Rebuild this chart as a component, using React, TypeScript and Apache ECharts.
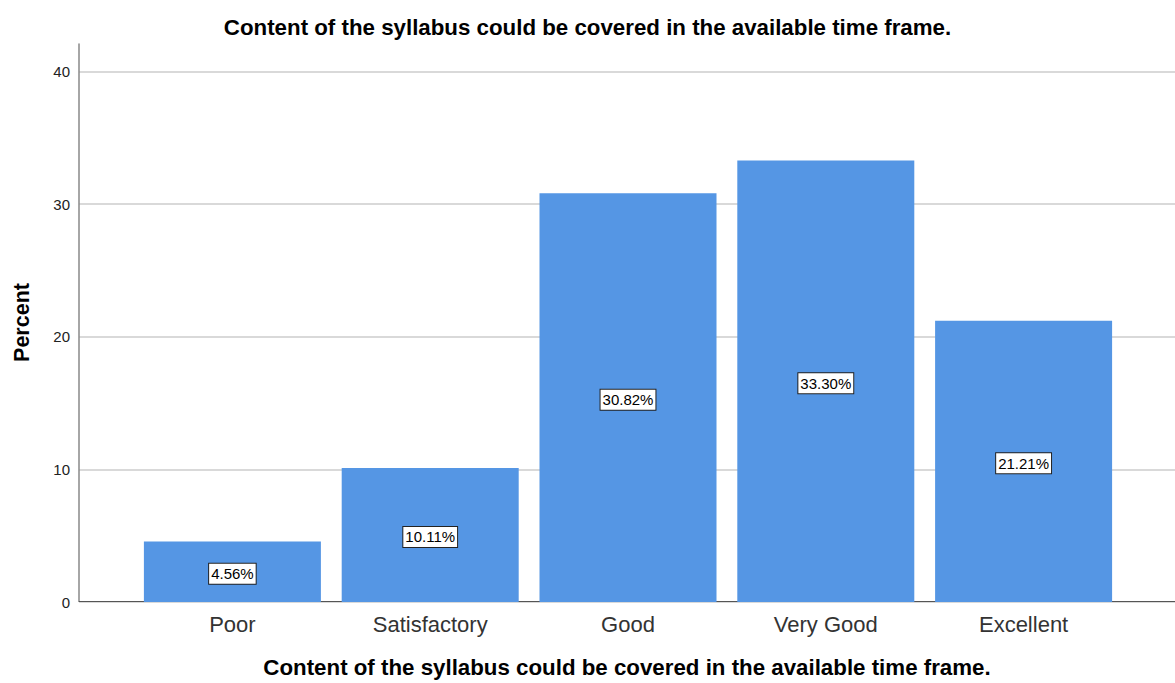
import React, { useEffect, useRef } from "react";
import * as echarts from "echarts";

const categories = ["Poor", "Satisfactory", "Good", "Very Good", "Excellent"];
const percents = [4.56, 10.11, 30.82, 33.3, 21.21];
const yTicks = [0, 10, 20, 30, 40];
const titleText = "Content of the syllabus could be covered in the available time frame.";
const xName = "Content of the syllabus could be covered in the available time frame.";
const yName = "Percent";

const FONT = "'Liberation Sans', Arial, sans-serif";

export default function App() {
  const ref = useRef<HTMLDivElement>(null);
  useEffect(() => {
    if (!ref.current) return;
    const chart = echarts.init(ref.current, undefined, { renderer: "svg" });
    const bottom = 81;
    const axisMax = 42.08;
    const innerTop = 44 + (602 - 44) * (1 - yTicks[yTicks.length - 1] / axisMax);
    chart.setOption({
      animation: false,
      backgroundColor: "#ffffff",
      textStyle: { fontFamily: FONT },
      title: {
        text: titleText,
        left: "center",
        top: 11,
        textStyle: { fontFamily: FONT, fontSize: 22.3, fontWeight: "bold", color: "#000" },
      },
      grid: [
        { left: 79, right: 0, top: 44, bottom },
        { left: 79, right: 0, top: innerTop, bottom },
        { left: 133.5, right: 52.5, top: innerTop, bottom },
      ],
      xAxis: [
        {
          gridIndex: 0,
          type: "value",
          min: 0,
          max: 1,
          axisLine: { show: true, lineStyle: { color: "#555", width: 1 } },
          axisTick: { show: false },
          axisLabel: { show: false },
          splitLine: { show: false },
          name: xName,
          nameLocation: "middle",
          nameGap: 55,
          nameTextStyle: { fontFamily: FONT, fontSize: 22.3, fontWeight: "bold", color: "#000" },
        },
        {
          gridIndex: 1,
          type: "value",
          min: 0,
          max: 1,
          show: false,
        },
        {
          gridIndex: 2,
          type: "category",
          data: categories,
          axisLine: { show: false },
          axisTick: { show: false },
          axisLabel: { fontFamily: FONT, fontSize: 22, color: "#333", margin: 11 },
        },
      ],
      yAxis: [
        {
          gridIndex: 0,
          type: "value",
          min: 0,
          max: axisMax,
          axisLine: { show: true, lineStyle: { color: "#888", width: 1.5 } },
          axisTick: { show: false },
          axisLabel: { show: false },
          splitLine: { show: false },
          name: yName,
          nameLocation: "middle",
          nameGap: 46,
          nameTextStyle: { fontFamily: FONT, fontSize: 21.5, fontWeight: "bold", color: "#000" },
        },
        {
          gridIndex: 1,
          type: "value",
          min: yTicks[0],
          max: yTicks[yTicks.length - 1],
          interval: 10,
          axisLine: { show: false },
          axisTick: { show: false },
          axisLabel: { fontFamily: FONT, fontSize: 15, color: "#222", margin: 9 },
          splitLine: { show: true, lineStyle: { color: "#cccccc", width: 1.5 } },
        },
        {
          gridIndex: 2,
          type: "value",
          min: yTicks[0],
          max: yTicks[yTicks.length - 1],
          show: false,
        },
      ],
      series: [
        {
          type: "bar",
          xAxisIndex: 2,
          yAxisIndex: 2,
          data: percents,
          barWidth: 177,
          itemStyle: { color: "#5596e4" },
          label: {
            show: true,
            position: "inside",
            offset: [0, 2],
            formatter: (p: any) => p.value.toFixed(2) + "%",
            fontFamily: FONT,
            fontSize: 15,
            color: "#000",
            backgroundColor: "#fff",
            borderColor: "#222",
            borderWidth: 1,
            padding: [3, 2, 2, 2],
          },
        },
      ],
    });
    return () => chart.dispose();
  }, []);
  return (
    <div
      ref={ref}
      style={{ position: "absolute", left: 0, top: 0, width: 1175, height: 683 }}
    />
  );
}
